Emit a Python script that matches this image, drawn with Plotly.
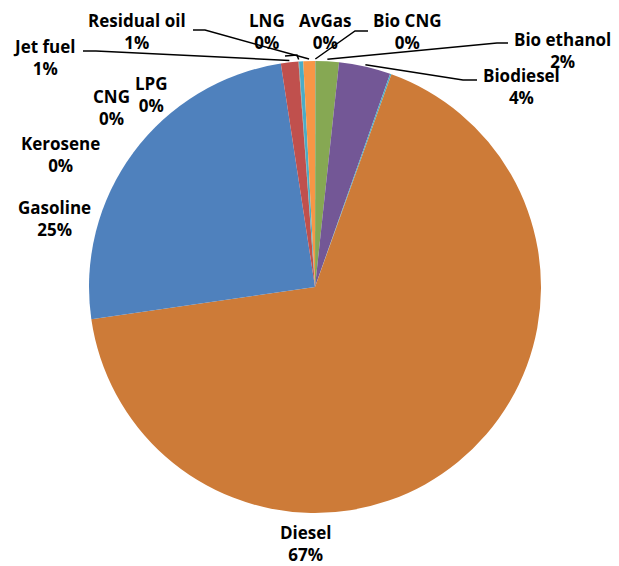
import math
import plotly.graph_objects as go

# ---- data ----
fuels = ["AvGas", "Bio CNG", "Bio ethanol", "Biodiesel", "CNG", "Diesel",
         "Gasoline", "Jet fuel", "Kerosene", "LNG", "LPG", "Residual oil"]
shares = [0.02, 0.01, 1.67, 3.7, 0.1, 67.3, 24.9, 1.25, 0.02, 0.02, 0.3, 0.83]
colors = ["#4F81BD", "#C0504D", "#86A853", "#735796", "#4BACC6", "#CD7B38",
          "#4F81BD", "#C0504D", "#86A853", "#735796", "#4BACC6", "#F79646"]

# ---- layout constants (page pixels; page body has an 8px margin) ----
PAGE_W, PAGE_H = 619, 566
OFF = 8
W, H = PAGE_W - OFF, PAGE_H - OFF
CX, CY, R = 315, 287, 226

def px(x):
    return (x - OFF) / W

def py(y):
    return 1 - (y - OFF) / H

fig = go.Figure(go.Pie(
    labels=fuels, values=shares, sort=False, direction="clockwise", rotation=0,
    marker=dict(colors=colors, line=dict(width=0)),
    textinfo="none", hoverinfo="label+percent", showlegend=False,
    domain=dict(x=[px(CX - R), px(CX + R)], y=[py(CY + R), py(CY - R)]),
))

total = sum(shares)
pcts = {f: round(100 * v / total) for f, v in zip(fuels, shares)}

# mid angles of each slice (clockwise from 12 o'clock)
mid = {}
acc = 0.0
for f, v in zip(fuels, shares):
    a0 = acc / total * 360
    acc += v
    a1 = acc / total * 360
    mid[f] = (a0 + a1) / 2

# label block centres (page pixels)
label_pos = {
    "Residual oil": (137, 31), "LNG": (267, 31), "AvGas": (325, 31),
    "Bio CNG": (407, 31), "Bio ethanol": (562, 50), "Biodiesel": (521, 87),
    "Jet fuel": (44, 57), "CNG": (111, 107), "LPG": (151, 94),
    "Kerosene": (60, 154), "Gasoline": (54, 219), "Diesel": (306, 543),
}
# leader line start + elbow (page pixels)
leaders = {
    "Jet fuel": [(83, 51), (96, 51)],
    "Residual oil": [(193, 30), (205, 30)],
    "LNG": [(285, 56), (297, 55)],
    "Bio CNG": [(368, 31), (355, 31)],
    "Bio ethanol": [(508, 43), (497, 43)],
    "Biodiesel": [(477, 80), (463, 80)],
}

for f in fuels:
    x, y = label_pos[f]
    fig.add_annotation(
        x=px(x), y=py(y), xref="paper", yref="paper", showarrow=False,
        xanchor="center", yanchor="middle", align="center",
        text=f"<b>{f}</b><br><b>{pcts[f]}%</b>",
        font=dict(family="Open Sans", size=17, color="#000000"),
    )

for f, pts in leaders.items():
    a = math.radians(mid[f])
    ex, ey = CX + (R + 2) * math.sin(a), CY - (R + 2) * math.cos(a)
    allp = pts + [(ex, ey)]
    path = "M " + " L ".join(f"{px(a_)},{py(b_)}" for a_, b_ in allp)
    fig.add_shape(type="path", path=path, xref="paper", yref="paper",
                  line=dict(color="#000000", width=1.5))

fig.update_layout(
    width=W, height=H, margin=dict(l=0, r=0, t=0, b=0),
    paper_bgcolor="white", plot_bgcolor="white",
)
fig.write_html("out.html")
